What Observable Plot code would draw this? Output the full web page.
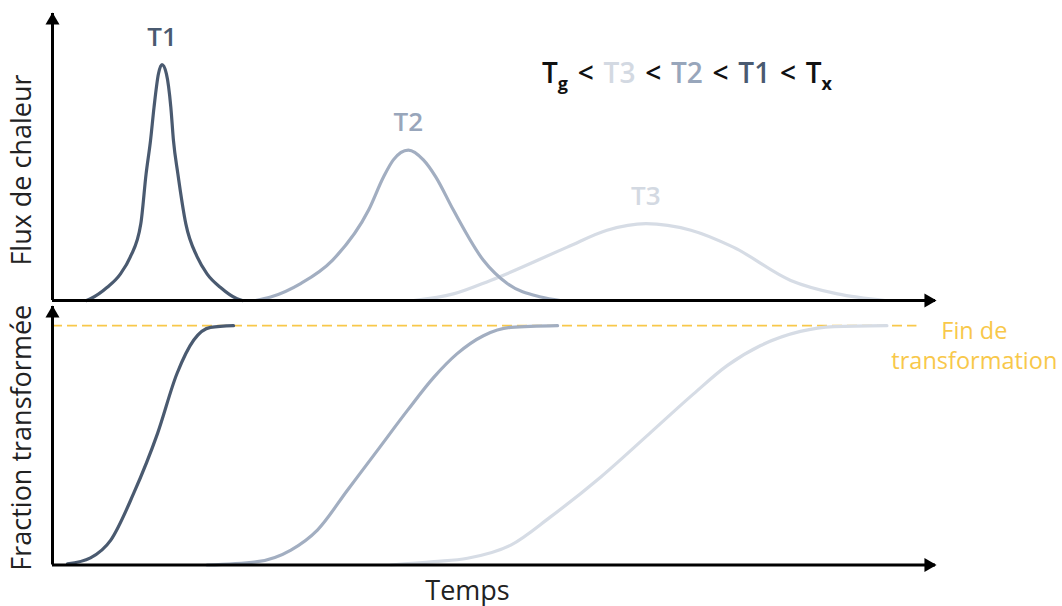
<!DOCTYPE html>
<html>
<head>
<meta charset="utf-8">
<script src="https://cdn.jsdelivr.net/npm/d3@7"></script>
<script src="https://cdn.jsdelivr.net/npm/@observablehq/plot@0.6"></script>
<style>
  html, body { margin: 0; padding: 0; background: #fff; }
  #wrap { position: relative; width: 1062px; height: 606px; font-family: "Open Sans", Lato, sans-serif; }
  #top, #bottom { position: absolute; left: 0; }
  #top { top: 0; }
  #bottom { top: 302px; }
  #order { position: absolute; left: 542px; top: 55px; font-size: 28px; line-height: 34px; font-weight: 600; word-spacing: 2.5px; color: #111; white-space: pre; font-family: "Open Sans", sans-serif; }
  #order sub { font-size: 18px; vertical-align: -7px; line-height: 0; font-weight: 700; }
</style>
</head>
<body>
<div id="wrap">
  <div id="top"></div>
  <div id="bottom"></div>
  <div id="order">T<sub>g</sub> &lt; <span style="color:#d3d9e2">T3</span> &lt; <span style="color:#98a6bb">T2</span> &lt; <span style="color:#4a5a70">T1</span> &lt; T<sub>x</sub></div>
</div>
<script>
// ---- Data (time in arbitrary units, 0–100) ----
const seriesNames = ["T1", "T2", "T3"];

// Heat flux curves (upper panel, arbitrary units 0–100)
const fluxT1Time  = [3.85, 4.3, 6.2, 7.7, 8.8, 10.0, 10.6, 11.1, 11.5, 12.0, 12.4, 12.9, 13.4, 13.7, 14.2, 15.1, 16.4, 17.5, 19.0, 20.9, 21.5];
const fluxT1Value = [0, 0.6, 4.6, 9.3, 15.1, 26.7, 44.1, 55.7, 67.4, 79.0, 82.2, 79.0, 67.4, 55.7, 44.1, 26.7, 15.1, 9.3, 4.6, 0.6, 0];

const fluxT2Time  = [23.0, 24.7, 28.1, 31.7, 35.8, 37.5, 38.6, 40.3, 42.0, 43.4, 45.4, 48.8, 51.5, 55.3, 57.5];
const fluxT2Value = [0, 1.2, 5.9, 14.0, 31.5, 43.1, 49.0, 52.4, 49.0, 43.1, 31.5, 14.0, 5.9, 1.2, 0];

const fluxT3Time  = [40.9, 45.4, 49.6, 58.3, 62.8, 67.2, 72.3, 77.1, 83.6, 88.9, 94.3];
const fluxT3Value = [0, 2.3, 7.0, 18.6, 24.5, 26.8, 24.5, 18.6, 7.0, 2.3, 0];

// Transformed fraction curves (lower panel, 0–1)
const fracT1Time  = [1.7, 4.3, 6.6, 9.2, 11.9, 14.1, 16.0, 17.9, 20.5];
const fracT1Value = [0.005, 0.03, 0.104, 0.30, 0.55, 0.80, 0.94, 0.993, 1.0];

const fracT2Time  = [17.5, 23.2, 27.0, 30.0, 33.4, 36.8, 40.2, 43.2, 45.8, 48.8, 51.9, 57.2];
const fracT2Value = [0, 0.014, 0.0625, 0.146, 0.3125, 0.479, 0.646, 0.785, 0.882, 0.958, 0.993, 1.0];

const fracT3Time  = [38.3, 43.2, 47.0, 51.9, 56.4, 62.1, 67.6, 72.6, 76.4, 80.2, 84.7, 88.5, 94.5];
const fracT3Value = [0, 0.014, 0.028, 0.083, 0.201, 0.368, 0.549, 0.715, 0.833, 0.917, 0.976, 0.996, 1.0];

const endLevel = 1;          // fraction at end of transformation
const endLineTime = 97.9;    // extent of the dashed reference line
const endLabel = "Fin de\ntransformation";
const axisLabels = { flux: "Flux de chaleur", fraction: "Fraction transformée", time: "Temps" };

// ---- Build tables ----
const zip = (ts, vs) => ts.map((t, i) => ({t, v: vs[i]}));
const flux = { T1: zip(fluxT1Time, fluxT1Value), T2: zip(fluxT2Time, fluxT2Value), T3: zip(fluxT3Time, fluxT3Value) };
const frac = { T1: zip(fracT1Time, fracT1Value), T2: zip(fracT2Time, fracT2Value), T3: zip(fracT3Time, fracT3Value) };
const colors = { T1: "#4a5a70", T2: "#a2aec1", T3: "#d6dce5" };
const labelColors = { T1: "#4a5a70", T2: "#98a6bb", T3: "#d3d9e2" };
const peaks = seriesNames.map(s => {
  const p = flux[s].reduce((a, b) => (b.v > a.v ? b : a));
  return {name: s, t: p.t, v: p.v};
});

const font = "'Open Sans', Lato, sans-serif";
const lineW = 3.2;
const labelSize = 27;

const topPlot = Plot.plot({
  width: 1062, height: 302,
  marginLeft: 52, marginRight: 127, marginTop: 13, marginBottom: 2,
  x: {domain: [0, 100], axis: null},
  y: {domain: [0, 100], axis: null},
  style: {fontFamily: font, background: "transparent", overflow: "visible"},
  marks: [
    ...["T3", "T2", "T1"].map(s => Plot.line(flux[s], {x: "t", y: "v", stroke: colors[s], strokeWidth: lineW, curve: "monotone-x"})),
    Plot.ruleY([0], {stroke: "#000", strokeWidth: 3}),
    Plot.ruleX([0], {stroke: "#000", strokeWidth: 3}),
    Plot.dot([100], {x: d => d, y: 0, symbol: "triangle", r: 5.2, rotate: 90, dx: -7, fill: "#000", stroke: null}),
    Plot.dot([0], {x: d => d, y: 100, symbol: "triangle", r: 5.2, rotate: 0, dy: 7, fill: "#000", stroke: null}),
    Plot.text(peaks, {x: "t", y: "v", text: "name", fill: d => labelColors[d.name], dy: -27, fontSize: 26, fontWeight: 600, textAnchor: "middle", lineAnchor: "middle"}),
    Plot.text([axisLabels.flux], {frameAnchor: "left", rotate: -90, dx: -30, dy: 13, fontSize: labelSize, fill: "#222", textAnchor: "middle", lineAnchor: "middle"})
  ]
});
document.getElementById("top").appendChild(topPlot);

const bottomPlot = Plot.plot({
  width: 1062, height: 304,
  marginLeft: 52, marginRight: 127, marginTop: 4, marginBottom: 41.5,
  x: {domain: [0, 100], axis: null},
  y: {domain: [0, 1.08], axis: null},
  style: {fontFamily: font, background: "transparent", overflow: "visible"},
  marks: [
    Plot.ruleY([endLevel], {x1: 0, x2: endLineTime, stroke: "#f8c84a", strokeWidth: 1.6, strokeDasharray: "10,5"}),
    ...["T3", "T2", "T1"].map(s => Plot.line(frac[s], {x: "t", y: "v", stroke: colors[s], strokeWidth: lineW, curve: "monotone-x"})),
    Plot.ruleY([0], {stroke: "#000", strokeWidth: 3}),
    Plot.ruleX([0], {stroke: "#000", strokeWidth: 3}),
    Plot.dot([100], {x: d => d, y: 0, symbol: "triangle", r: 5.2, rotate: 90, dx: -7, fill: "#000", stroke: null}),
    Plot.dot([0], {x: d => d, y: 1.08, symbol: "triangle", r: 5.2, rotate: 0, dy: 7, fill: "#000", stroke: null}),
    Plot.text([endLabel], {x: 104.4, y: endLevel, text: d => d, fill: "#f8c84a", fontSize: 23.5, lineHeight: 1.28, lineAnchor: "top", dy: -8, textAnchor: "middle"}),
    Plot.text([axisLabels.fraction], {frameAnchor: "left", rotate: -90, dx: -30, dy: 2, fontSize: labelSize, fill: "#222", textAnchor: "middle", lineAnchor: "middle"}),
    Plot.text([axisLabels.time], {x: 47, frameAnchor: "bottom", dy: 26, fontSize: labelSize, fill: "#222", textAnchor: "middle", lineAnchor: "middle"})
  ]
});
document.getElementById("bottom").appendChild(bottomPlot);
</script>
</body>
</html>
